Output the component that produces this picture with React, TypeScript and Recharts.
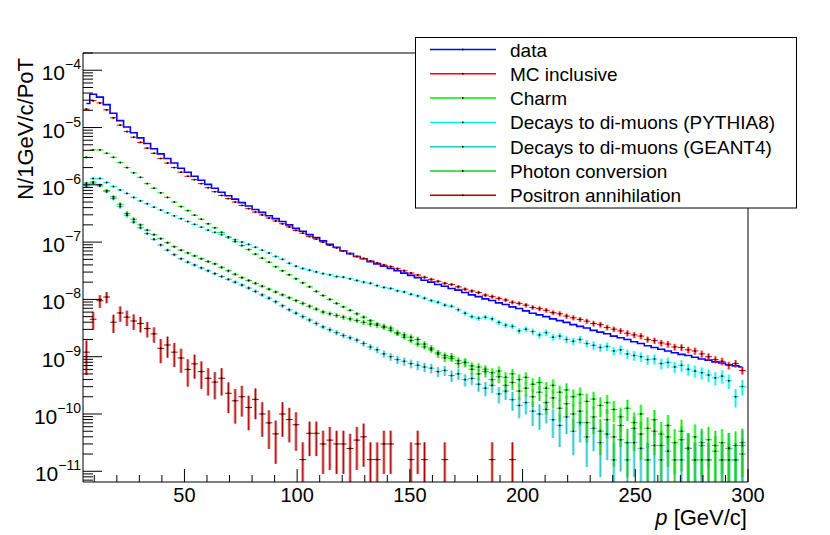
import React from "react";
import { ComposedChart, Line, Scatter, ErrorBar, XAxis, YAxis } from "recharts";

const FONT = "'Liberation Sans', Arial, Helvetica, sans-serif";

// bin centres, 3 GeV/c wide bins
const pBins = [
  6.5, 9.5, 12.5, 15.5, 18.5, 21.5, 24.5, 27.5, 30.5, 33.5,
  36.5, 39.5, 42.5, 45.5, 48.5, 51.5, 54.5, 57.5, 60.5, 63.5,
  66.5, 69.5, 72.5, 75.5, 78.5, 81.5, 84.5, 87.5, 90.5, 93.5,
  96.5, 99.5, 102.5, 105.5, 108.5, 111.5, 114.5, 117.5, 120.5, 123.5,
  126.5, 129.5, 132.5, 135.5, 138.5, 141.5, 144.5, 147.5, 150.5, 153.5,
  156.5, 159.5, 162.5, 165.5, 168.5, 171.5, 174.5, 177.5, 180.5, 183.5,
  186.5, 189.5, 192.5, 195.5, 198.5, 201.5, 204.5, 207.5, 210.5, 213.5,
  216.5, 219.5, 222.5, 225.5, 228.5, 231.5, 234.5, 237.5, 240.5, 243.5,
  246.5, 249.5, 252.5, 255.5, 258.5, 261.5, 264.5, 267.5, 270.5, 273.5,
  276.5, 279.5, 282.5, 285.5, 288.5, 291.5, 294.5, 297.5,
];

const dataHist = [
  2.63e-5, 3.8e-5, 3.39e-5, 2.51e-5, 1.78e-5, 1.32e-5, 1.02e-5, 8.13e-6, 6.61e-6, 5.25e-6,
  4.27e-6, 3.47e-6, 2.88e-6, 2.4e-6, 1.95e-6, 1.66e-6, 1.41e-6, 1.2e-6, 1.02e-6, 8.71e-7,
  7.41e-7, 6.46e-7, 5.62e-7, 4.9e-7, 4.27e-7, 3.72e-7, 3.31e-7, 2.88e-7, 2.57e-7, 2.29e-7,
  2.0e-7, 1.74e-7, 1.55e-7, 1.35e-7, 1.2e-7, 1.05e-7, 9.12e-8, 8.13e-8, 7.08e-8, 6.31e-8,
  5.62e-8, 5.13e-8, 4.57e-8, 4.17e-8, 3.8e-8, 3.47e-8, 3.16e-8, 2.88e-8, 2.63e-8, 2.4e-8,
  2.16e-8, 2.0e-8, 1.82e-8, 1.7e-8, 1.55e-8, 1.45e-8, 1.32e-8, 1.2e-8, 1.12e-8, 1.02e-8,
  9.55e-9, 8.71e-9, 8.13e-9, 7.41e-9, 6.92e-9, 6.31e-9, 5.75e-9, 5.37e-9, 5.01e-9, 4.57e-9,
  4.27e-9, 3.98e-9, 3.63e-9, 3.39e-9, 3.16e-9, 2.88e-9, 2.69e-9, 2.51e-9, 2.29e-9, 2.14e-9,
  2.0e-9, 1.82e-9, 1.7e-9, 1.55e-9, 1.45e-9, 1.35e-9, 1.26e-9, 1.17e-9, 1.1e-9, 1.05e-9,
  9.77e-10, 9.12e-10, 8.71e-10, 8.13e-10, 7.76e-10, 7.24e-10, 6.92e-10, 6.61e-10,
];

const mcInclusive = [
  2.09e-5, 2.95e-5, 2.69e-5, 2.04e-5, 1.48e-5, 1.1e-5, 8.51e-6, 6.76e-6, 5.5e-6, 4.37e-6,
  3.55e-6, 2.88e-6, 2.4e-6, 2.0e-6, 1.66e-6, 1.41e-6, 1.23e-6, 1.05e-6, 8.91e-7, 7.59e-7,
  6.53e-7, 5.75e-7, 5.01e-7, 4.37e-7, 3.84e-7, 3.35e-7, 2.98e-7, 2.63e-7, 2.34e-7, 2.09e-7,
  1.84e-7, 1.6e-7, 1.43e-7, 1.25e-7, 1.13e-7, 1.0e-7, 8.81e-8, 7.94e-8, 7.0e-8, 6.31e-8,
  5.62e-8, 5.19e-8, 4.68e-8, 4.32e-8, 3.98e-8, 3.72e-8, 3.43e-8, 3.16e-8, 2.88e-8, 2.66e-8,
  2.43e-8, 2.24e-8, 2.07e-8, 1.91e-8, 1.82e-8, 1.66e-8, 1.51e-8, 1.4e-8, 1.32e-8, 1.19e-8,
  1.12e-8, 1.04e-8, 9.77e-9, 8.91e-9, 8.51e-9, 7.94e-9, 7.24e-9, 6.92e-9, 6.46e-9, 5.89e-9,
  5.62e-9, 5.13e-9, 4.79e-9, 4.47e-9, 4.17e-9, 3.8e-9, 3.63e-9, 3.24e-9, 3.02e-9, 2.82e-9,
  2.57e-9, 2.4e-9, 2.29e-9, 2.0e-9, 1.91e-9, 1.74e-9, 1.66e-9, 1.48e-9, 1.45e-9, 1.32e-9,
  1.26e-9, 1.12e-9, 1.0e-9, 8.91e-10, 8.32e-10, 7.08e-10, 7.59e-10, 5.75e-10,
];
const mcErr = [
  0.03, 0.03, 0.03, 0.03, 0.03, 0.03, 0.03, 0.03, 0.03, 0.03,
  0.02, 0.02, 0.02, 0.02, 0.02, 0.02, 0.02, 0.02, 0.02, 0.02,
  0.02, 0.02, 0.02, 0.02, 0.02, 0.02, 0.02, 0.02, 0.03, 0.03,
  0.03, 0.03, 0.03, 0.03, 0.03, 0.03, 0.03, 0.03, 0.04, 0.04,
  0.04, 0.04, 0.04, 0.04, 0.05, 0.05, 0.05, 0.05, 0.05, 0.05,
  0.06, 0.06, 0.06, 0.06, 0.06, 0.07, 0.07, 0.07, 0.07, 0.07,
  0.08, 0.08, 0.08, 0.08, 0.08, 0.09, 0.09, 0.09, 0.09, 0.09,
  0.1, 0.1, 0.1, 0.1, 0.1, 0.11, 0.11, 0.11, 0.11, 0.11,
  0.12, 0.12, 0.12, 0.12, 0.12, 0.13, 0.13, 0.13, 0.13, 0.13,
  0.14, 0.14, 0.14, 0.14, 0.15, 0.15, 0.15, 0.15,
];

const charm = [
  3.02e-6, 4.07e-6, 4.07e-6, 3.55e-6, 3.02e-6, 2.45e-6, 2.0e-6, 1.62e-6, 1.35e-6, 1.05e-6,
  8.71e-7, 7.24e-7, 6.03e-7, 5.01e-7, 4.17e-7, 3.55e-7, 2.95e-7, 2.51e-7, 2.09e-7, 1.78e-7,
  1.48e-7, 1.23e-7, 1.02e-7, 8.71e-8, 7.41e-8, 6.17e-8, 5.25e-8, 4.47e-8, 3.72e-8, 3.16e-8,
  2.69e-8, 2.29e-8, 1.95e-8, 1.66e-8, 1.38e-8, 1.17e-8, 1.0e-8, 8.51e-9, 7.41e-9, 6.46e-9,
  5.62e-9, 4.9e-9, 4.27e-9, 3.72e-9, 3.24e-9, 2.88e-9, 2.51e-9, 2.19e-9, 1.91e-9, 1.66e-9,
  1.48e-9, 1.32e-9, 1.17e-9, 1.05e-9, 9.33e-10, 8.51e-10, 7.94e-10, 6.92e-10, 6.61e-10, 6.03e-10,
  5.25e-10, 5.62e-10, 4.37e-10, 5.01e-10, 3.98e-10, 4.37e-10, 3.31e-10, 3.55e-10, 2.82e-10, 3.16e-10,
  2.4e-10, 2.63e-10, 2.0e-10, 2.19e-10, 1.66e-10, 1.82e-10, 1.41e-10, 1.58e-10, 1.2e-10, 8.91e-11,
  1.26e-10, 7.08e-11, 1.0e-10, 5.62e-11, 7.94e-11, 4.47e-11, 6.31e-11, 3.16e-11, 5.01e-11, 2.51e-11,
  3.98e-11, 1.58e-11, 3.55e-11, 2.24e-11, 3.16e-11, 1.58e-11, 2.82e-11, 2.0e-11,
];
const charmErr = [
  0.04, 0.03, 0.03, 0.03, 0.03, 0.03, 0.03, 0.03, 0.03, 0.03,
  0.03, 0.03, 0.03, 0.03, 0.03, 0.03, 0.03, 0.03, 0.03, 0.03,
  0.04, 0.04, 0.04, 0.04, 0.04, 0.04, 0.04, 0.04, 0.04, 0.04,
  0.05, 0.05, 0.05, 0.05, 0.05, 0.05, 0.05, 0.05, 0.05, 0.05,
  0.07, 0.07, 0.07, 0.07, 0.08, 0.08, 0.08, 0.09, 0.09, 0.1,
  0.1, 0.11, 0.12, 0.13, 0.13, 0.14, 0.15, 0.15, 0.16, 0.17,
  0.2, 0.2, 0.22, 0.21, 0.24, 0.22, 0.26, 0.25, 0.28, 0.27,
  0.3, 0.3, 0.33, 0.32, 0.36, 0.34, 0.38, 0.36, 0.4, 0.45,
  0.4, 0.5, 0.45, 0.55, 0.48, 0.62, 0.52, 0.72, 0.58, 0.82,
  0.65, 1, 0.68, 0.85, 0.72, 1, 0.76, 0.9,
];

const pythia8 = [
  9.55e-7, 1.29e-6, 1.29e-6, 1.1e-6, 9.33e-7, 8.13e-7, 7.08e-7, 6.03e-7, 5.25e-7, 4.68e-7,
  4.07e-7, 3.63e-7, 3.24e-7, 2.88e-7, 2.57e-7, 2.29e-7, 2.04e-7, 1.82e-7, 1.62e-7, 1.48e-7,
  1.35e-7, 1.2e-7, 1.1e-7, 1.0e-7, 9.12e-8, 8.13e-8, 7.24e-8, 6.46e-8, 5.62e-8, 5.01e-8,
  4.27e-8, 3.8e-8, 3.47e-8, 3.24e-8, 3.02e-8, 2.82e-8, 2.69e-8, 2.51e-8, 2.45e-8, 2.29e-8,
  2.14e-8, 2.0e-8, 1.91e-8, 1.74e-8, 1.62e-8, 1.55e-8, 1.41e-8, 1.35e-8, 1.23e-8, 1.15e-8,
  1.05e-8, 9.55e-9, 8.91e-9, 7.94e-9, 7.59e-9, 6.61e-9, 5.75e-9, 5.01e-9, 4.68e-9, 4.9e-9,
  4.57e-9, 3.98e-9, 3.55e-9, 3.39e-9, 2.82e-9, 3.02e-9, 2.75e-9, 2.4e-9, 2.63e-9, 2.19e-9,
  2.29e-9, 2.0e-9, 1.86e-9, 2.0e-9, 1.7e-9, 1.58e-9, 1.45e-9, 1.51e-9, 1.26e-9, 1.32e-9,
  1.12e-9, 1.05e-9, 1.0e-9, 8.91e-10, 9.12e-10, 7.59e-10, 7.94e-10, 6.61e-10, 7.08e-10, 6.03e-10,
  5.62e-10, 5.25e-10, 4.79e-10, 4.27e-10, 4.57e-10, 3.8e-10, 2.0e-10, 3.02e-10,
];
const pythia8Err = [
  0.04, 0.04, 0.04, 0.04, 0.04, 0.04, 0.04, 0.04, 0.04, 0.04,
  0.03, 0.03, 0.03, 0.03, 0.03, 0.03, 0.03, 0.03, 0.03, 0.03,
  0.04, 0.04, 0.04, 0.04, 0.04, 0.04, 0.04, 0.04, 0.04, 0.04,
  0.05, 0.05, 0.05, 0.05, 0.05, 0.05, 0.05, 0.05, 0.05, 0.05,
  0.06, 0.06, 0.06, 0.06, 0.06, 0.06, 0.06, 0.06, 0.06, 0.06,
  0.07, 0.07, 0.08, 0.08, 0.08, 0.09, 0.09, 0.09, 0.1, 0.1,
  0.1, 0.1, 0.11, 0.11, 0.12, 0.12, 0.12, 0.13, 0.13, 0.13,
  0.14, 0.14, 0.15, 0.15, 0.15, 0.16, 0.16, 0.17, 0.17, 0.18,
  0.18, 0.19, 0.19, 0.2, 0.2, 0.21, 0.21, 0.22, 0.22, 0.23,
  0.24, 0.24, 0.25, 0.26, 0.26, 0.28, 0.35, 0.3,
];

const geant4 = [
  1.0e-6, 1.07e-6, 9.55e-7, 7.59e-7, 5.75e-7, 4.17e-7, 2.95e-7, 2.24e-7, 1.78e-7, 1.41e-7,
  1.12e-7, 8.91e-8, 7.24e-8, 6.03e-8, 5.13e-8, 4.47e-8, 3.98e-8, 3.55e-8, 3.16e-8, 2.82e-8,
  2.51e-8, 2.24e-8, 2.0e-8, 1.78e-8, 1.58e-8, 1.38e-8, 1.2e-8, 1.05e-8, 9.12e-9, 7.76e-9,
  6.61e-9, 5.75e-9, 5.01e-9, 4.37e-9, 3.8e-9, 3.31e-9, 2.95e-9, 2.63e-9, 2.34e-9, 2.14e-9,
  1.95e-9, 1.7e-9, 1.48e-9, 1.32e-9, 1.12e-9, 1.0e-9, 8.91e-10, 8.32e-10, 7.59e-10, 7.08e-10,
  6.61e-10, 6.31e-10, 5.5e-10, 5.75e-10, 4.68e-10, 5.01e-10, 3.98e-10, 4.17e-10, 3.31e-10, 2.82e-10,
  3.16e-10, 2.24e-10, 2.51e-10, 1.78e-10, 1.41e-10, 1.58e-10, 1.12e-10, 1.0e-10, 1.2e-10, 7.94e-11,
  6.31e-11, 8.91e-11, 5.01e-11, 7.08e-11, 3.98e-11, 5.62e-11, 3.16e-11, 4.47e-11, 1.58e-11, 3.55e-11,
  1.58e-11, 3.16e-11, 2.51e-11, 1.58e-11, 2.82e-11, 1.58e-11, 2.24e-11, null, 1.58e-11, 2.51e-11,
  1.58e-11, 2.82e-11, 1.58e-11, null, 1.58e-11, 2.51e-11, 1.58e-11, 2.82e-11,
];
const geant4Err = [
  0.05, 0.05, 0.05, 0.06, 0.07, 0.08, 0.1, 0.08, 0.07, 0.06,
  0.06, 0.06, 0.06, 0.06, 0.06, 0.06, 0.06, 0.06, 0.06, 0.06,
  0.06, 0.06, 0.07, 0.07, 0.07, 0.07, 0.08, 0.08, 0.08, 0.08,
  0.08, 0.08, 0.09, 0.09, 0.09, 0.09, 0.1, 0.1, 0.1, 0.1,
  0.1, 0.11, 0.12, 0.13, 0.14, 0.15, 0.16, 0.16, 0.17, 0.18,
  0.18, 0.19, 0.2, 0.2, 0.22, 0.21, 0.24, 0.23, 0.26, 0.28,
  0.27, 0.32, 0.3, 0.36, 0.4, 0.38, 0.45, 0.47, 0.43, 0.52,
  0.58, 0.5, 0.62, 0.55, 0.7, 0.6, 0.75, 0.65, 1, 0.72,
  1, 0.75, 0.85, 1, 0.8, 1, 0.85, 0, 1, 0.85,
  1, 0.8, 1, 0, 1, 0.85, 1, 0.8,
];

const photonConv = [
  1.07e-6, 1.12e-6, 1.0e-6, 7.94e-7, 6.17e-7, 4.57e-7, 3.16e-7, 2.51e-7, 2.0e-7, 1.62e-7,
  1.35e-7, 1.15e-7, 9.77e-8, 8.32e-8, 7.24e-8, 6.46e-8, 5.75e-8, 5.13e-8, 4.57e-8, 4.17e-8,
  3.63e-8, 3.16e-8, 2.75e-8, 2.4e-8, 2.14e-8, 1.91e-8, 1.7e-8, 1.51e-8, 1.35e-8, 1.2e-8,
  1.07e-8, 9.55e-9, 8.51e-9, 7.59e-9, 6.76e-9, 6.03e-9, 5.62e-9, 5.25e-9, 4.9e-9, 4.57e-9,
  4.27e-9, 3.98e-9, 3.72e-9, 3.55e-9, 3.39e-9, 3.16e-9, 2.63e-9, 2.4e-9, 2.19e-9, 2.0e-9,
  1.66e-9, 1.41e-9, 1.12e-9, 9.55e-10, 1.0e-9, 7.59e-10, 7.94e-10, 6.03e-10, 5.01e-10, 5.5e-10,
  3.98e-10, 4.47e-10, 3.16e-10, 3.55e-10, 2.51e-10, 2.82e-10, 2.0e-10, 2.4e-10, 1.58e-10, 1.91e-10,
  1.26e-10, 1.51e-10, 1.0e-10, 1.12e-10, 7.08e-11, 8.91e-11, 5.01e-11, 7.94e-11, 3.98e-11, 6.31e-11,
  3.16e-11, 5.62e-11, 4.47e-11, 1.58e-11, 5.01e-11, 2.82e-11, 3.98e-11, 1.58e-11, 3.55e-11, 2.51e-11,
  1.58e-11, 3.16e-11, 1.58e-11, 2.82e-11, 1.58e-11, 2.51e-11, 1.58e-11, 3.16e-11,
];
const photonErr = [
  0.05, 0.05, 0.05, 0.06, 0.06, 0.08, 0.1, 0.08, 0.06, 0.05,
  0.05, 0.05, 0.05, 0.05, 0.05, 0.05, 0.05, 0.05, 0.05, 0.05,
  0.06, 0.06, 0.06, 0.06, 0.06, 0.06, 0.06, 0.06, 0.06, 0.06,
  0.07, 0.07, 0.08, 0.08, 0.08, 0.09, 0.09, 0.09, 0.1, 0.1,
  0.1, 0.1, 0.11, 0.11, 0.11, 0.11, 0.12, 0.12, 0.12, 0.12,
  0.12, 0.13, 0.15, 0.16, 0.16, 0.18, 0.18, 0.2, 0.22, 0.21,
  0.24, 0.23, 0.27, 0.26, 0.3, 0.28, 0.33, 0.3, 0.38, 0.35,
  0.42, 0.39, 0.47, 0.45, 0.55, 0.5, 0.62, 0.52, 0.7, 0.58,
  0.75, 0.6, 0.65, 1, 0.62, 0.8, 0.7, 1, 0.72, 0.85,
  1, 0.75, 1, 0.8, 1, 0.85, 1, 0.75,
];

// only the first bins are filled; the rest of the range is empty
const annihilation = [
  1.2e-9, 4.5e-9, 9.5e-9, 1.1e-8, 4.0e-9, 5.8e-9, 4.9e-9, 4.2e-9, 3.8e-9, 3.1e-9,
  2.5e-9, 1.4e-9, 1.6e-9, 1.2e-9, 9.5e-10, 6.0e-10, 7.5e-10, 5.5e-10, 4.2e-10, 3.6e-10,
  4.2e-10, 2.3e-10, 1.7e-10, 2.0e-10, 1.3e-10, 1.8e-10, 1.0e-10, 7.0e-11, 4.5e-11, 1.0e-10,
  8.0e-11, 6.5e-11, 1.6e-11, 4.6e-11, 4.6e-11, 3.0e-11, 3.5e-11, 3.0e-11, 3.0e-11, 2.5e-11,
  3.5e-11, 4.0e-11, 1.6e-11, 1.6e-11, 3.0e-11, 3.0e-11, null, null, 1.6e-11, 3.0e-11,
  1.6e-11, null, null, 1.6e-11, null, null, null, null, null, null,
  1.6e-11, null, null, 1.6e-11,
];
const annihilationErr = [
  0.6, 0.35, 0.25, 0.22, 0.35, 0.3, 0.3, 0.3, 0.3, 0.3,
  0.3, 0.45, 0.4, 0.45, 0.45, 0.5, 0.45, 0.5, 0.5, 0.5,
  0.5, 0.55, 0.6, 0.55, 0.6, 0.55, 0.6, 0.65, 0.7, 0.6,
  0.6, 0.65, 1, 0.6, 0.6, 0.7, 0.7, 0.7, 0.7, 0.8,
  0.7, 0.7, 1, 1, 0.7, 0.7, 0, 0, 1, 0.7,
  1, 0, 0, 1, 0, 0, 0, 0, 0, 0,
  1, 0, 0, 1,
];

const xTicks = [10, 20, 30, 40, 50, 60, 70, 80, 90, 100, 110, 120, 130, 140, 150, 160, 170, 180, 190, 200, 210, 220, 230, 240, 250, 260, 270, 280, 290, 300];
const yDecades = [-12, -11, -10, -9, -8, -7, -6, -5, -4];
const yMinorSteps = [1, 2, 3, 4, 5, 6, 7, 8, 9];
const Y_DOMAIN: [number, number] = [6.5e-12, 2e-4];
const yTicks = yDecades
  .flatMap((d) => yMinorSteps.map((m) => m * Math.pow(10, d)))
  .filter((v) => v >= Y_DOMAIN[0] && v <= Y_DOMAIN[1]);

type Pt = { p: number; v: number; e: [number, number] };

// error bars stop at the bottom of the frame, as ROOT draws them
function toPoints(vals: (number | null)[], errs?: number[]): Pt[] {
  const out: Pt[] = [];
  pBins.forEach((p, i) => {
    const v = vals[i];
    if (v == null) return;
    const r = errs ? errs[i] ?? 0 : 0;
    out.push({ p, v, e: [Math.min(v * r, v - Y_DOMAIN[0]), v * r] });
  });
  return out;
}

const series = [
  { name: "data", color: "#0000ff", vals: dataHist, err: undefined as number[] | undefined, hist: true },
  { name: "MC inclusive", color: "#ff0000", vals: mcInclusive, err: mcErr, hist: false },
  { name: "Charm", color: "#00ee00", vals: charm, err: charmErr, hist: false },
  { name: "Decays to di-muons (PYTHIA8)", color: "#00f0f0", vals: pythia8, err: pythia8Err, hist: false },
  { name: "Decays to di-muons (GEANT4)", color: "#22c4cc", vals: geant4, err: geant4Err, hist: false },
  { name: "Photon conversion", color: "#22cc22", vals: photonConv, err: photonErr, hist: false },
  { name: "Positron annihilation", color: "#b00000", vals: annihilation, err: annihilationErr, hist: false },
];

const binShape = (color: string) => (props: any) => {
  const { cx, cy } = props;
  if (cx == null || cy == null || isNaN(cy)) return <g />;
  return (
    <g>
      <line x1={cx - 3.4} x2={cx + 3.4} y1={cy} y2={cy} stroke={color} strokeWidth={1} />
      <rect x={cx - 0.8} y={cy - 0.8} width={1.6} height={1.6} fill="#000" />
    </g>
  );
};

function XTick(props: any) {
  const { x, y, payload } = props;
  const major = payload.value % 50 === 0;
  return (
    <g>
      <line x1={x} x2={x} y1={y} y2={y - (major ? 13 : 7)} stroke="#000" strokeWidth={1} />
      {major && (
        <text x={x} y={y + 20} textAnchor="middle" fontSize={20} fontFamily={FONT} fill="#000">
          {payload.value}
        </text>
      )}
    </g>
  );
}

function YTick(props: any) {
  const { x, y, payload } = props;
  const lg = Math.log10(payload.value);
  const exp = Math.round(lg);
  const major = Math.abs(lg - exp) < 1e-6;
  return (
    <g>
      <line x1={x} x2={x + (major ? 19 : 10)} y1={y} y2={y} stroke="#000" strokeWidth={1} />
      {major && (
        <text x={x - 2} y={y + 10} textAnchor="end" fontFamily={FONT} fill="#000">
          <tspan fontSize={21}>10</tspan>
          <tspan fontSize={14} dy={-11}>{"\u2212" + Math.abs(exp)}</tspan>
        </text>
      )}
    </g>
  );
}

function LegendBox() {
  return (
    <svg width={830} height={535} style={{ position: "absolute", left: 0, top: 0, pointerEvents: "none" }}>
      <rect x={415.5} y={37.5} width={381} height={170.5} fill="#fff" stroke="#000" strokeWidth={1} />
      {series.map((s, i) => {
        const y = 49.5 + i * 24.3;
        return (
          <g key={s.name}>
            <line x1={430} x2={496} y1={y} y2={y} stroke={s.color} strokeWidth={1.5} />
            <rect x={462} y={y - 0.8} width={1.6} height={1.6} fill="#000" />
            <text x={510} y={y + 7} fontSize={19} fontFamily={FONT} fill="#000">
              {s.name}
            </text>
          </g>
        );
      })}
    </svg>
  );
}

export default function App() {
  return (
    <div style={{ position: "absolute", left: 0, top: 0, width: 830, height: 535, background: "#fff", fontFamily: FONT }}>
      <ComposedChart width={830} height={535} margin={{ top: 52, right: 81, bottom: 52, left: 82 }}>
        <XAxis
          type="number"
          dataKey="p"
          domain={[5, 300]}
          allowDataOverflow
          ticks={xTicks}
          interval={0}
          tickSize={0}
          tickMargin={0}
          tickLine={false}
          tick={XTick}
          axisLine={{ stroke: "#000" }}
          height={1}
        />
        <XAxis xAxisId="top" orientation="top" type="number" domain={[5, 300]} allowDataOverflow ticks={[5, 300]} tick={false} tickLine={false} axisLine={{ stroke: "#000" }} height={1} />
        <YAxis
          type="number"
          dataKey="v"
          scale="log"
          domain={Y_DOMAIN}
          allowDataOverflow
          ticks={yTicks}
          interval={0}
          tickSize={0}
          tickMargin={0}
          tickLine={false}
          tick={YTick}
          axisLine={{ stroke: "#000" }}
          width={1}
        />
        <YAxis yAxisId="right" orientation="right" type="number" scale="log" domain={Y_DOMAIN} allowDataOverflow ticks={[1e-11, 1e-4]} tick={false} tickLine={false} axisLine={{ stroke: "#000" }} width={1} />
        {series.map((s) =>
          s.hist ? (
            <Line
              key={s.name}
              data={toPoints(s.vals)}
              dataKey="v"
              type="step"
              stroke={s.color}
              strokeWidth={1.6}
              dot={false}
              isAnimationActive={false}
            />
          ) : (
            <Scatter key={s.name} data={toPoints(s.vals, s.err)} shape={binShape(s.color)} isAnimationActive={false}>
              <ErrorBar dataKey="e" direction="y" width={0} stroke={s.color} strokeOpacity={0.45} strokeWidth={3} />
              <ErrorBar dataKey="e" direction="y" width={0} stroke={s.color} strokeWidth={1} />
            </Scatter>
          )
        )}
      </ComposedChart>
      <svg width={830} height={535} style={{ position: "absolute", left: 0, top: 0, pointerEvents: "none" }}>
        <text x={33} y={58} transform="rotate(-90 33 58)" textAnchor="end" fontSize={22} fontFamily={FONT} fill="#000">
          N/1GeV/c/PoT
        </text>
        <text x={747} y={525} textAnchor="end" fontSize={22} fontFamily={FONT} fill="#000">
          <tspan fontStyle="italic">p</tspan> [GeV/c]
        </text>
      </svg>
      <LegendBox />
    </div>
  );
}
